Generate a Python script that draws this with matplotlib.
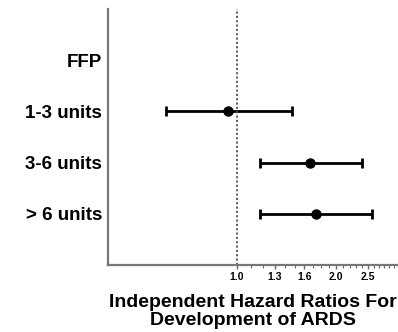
import numpy as np
import matplotlib
matplotlib.use("Agg")
import matplotlib.pyplot as plt
from matplotlib.ticker import FixedLocator, NullFormatter

# values (hazard ratio and 95% CI)
categories = ["FFP", "1-3 units", "3-6 units", "> 6 units"]
hazard_ratio = [np.nan, 0.94, 1.67, 1.74]
ci_low = [np.nan, 0.61, 1.17, 1.17]
ci_high = [np.nan, 1.47, 2.40, 2.57]
major_ticks = [1.0, 1.3, 1.6, 2.0, 2.5]
tick_labels = ["1.0", "1.3", "1.6", "2.0", "2.5"]

plt.rcParams["font.family"] = ["Liberation Sans", "DejaVu Sans"]
plt.rcParams["font.weight"] = "bold"

fig = plt.figure(figsize=(3.98, 3.32), dpi=100)
ax = fig.add_axes([0.271, 0.202, 0.729, 0.771])

hr = np.array(hazard_ratio)
lo = np.array(ci_low)
hi = np.array(ci_high)
ypos = np.arange(len(categories))

ax.errorbar(hr, ypos, xerr=[hr - lo, hi - hr], fmt="o", color="black",
            markersize=6.5, elinewidth=2, capsize=3.5, capthick=2)

ax.axvline(1.0, color="#555555", linestyle=(0, (1.2, 1.2)), linewidth=1.3)

ax.set_xscale("log")
ax.set_xlim(0.405, 3.08)
ax.set_ylim(4.0, -1.0)

ax.xaxis.set_major_locator(FixedLocator(major_ticks))
ax.set_xticklabels(tick_labels, fontsize=7.5, fontweight="bold")
ax.xaxis.set_minor_locator(FixedLocator(np.arange(1.1, 3.05, 0.1)))
ax.xaxis.set_minor_formatter(NullFormatter())
ax.tick_params(axis="x", which="major", length=3, width=1, color="#666666", pad=2)
ax.tick_params(axis="x", which="minor", length=2, width=0.8, color="#666666")

ax.set_yticks(ypos)
ax.set_yticklabels(categories, fontsize=13.5, fontweight="bold")
ax.tick_params(axis="y", length=0, pad=4)

for side in ["top", "right"]:
    ax.spines[side].set_visible(False)
for side in ["left", "bottom"]:
    ax.spines[side].set_color("#777777")
    ax.spines[side].set_linewidth(1.6)

ax.set_xlabel("Independent Hazard Ratios For\nDevelopment of ARDS",
              fontsize=14, fontweight="bold", labelpad=9, linespacing=1.05)

fig.savefig("out.png", dpi=100)
